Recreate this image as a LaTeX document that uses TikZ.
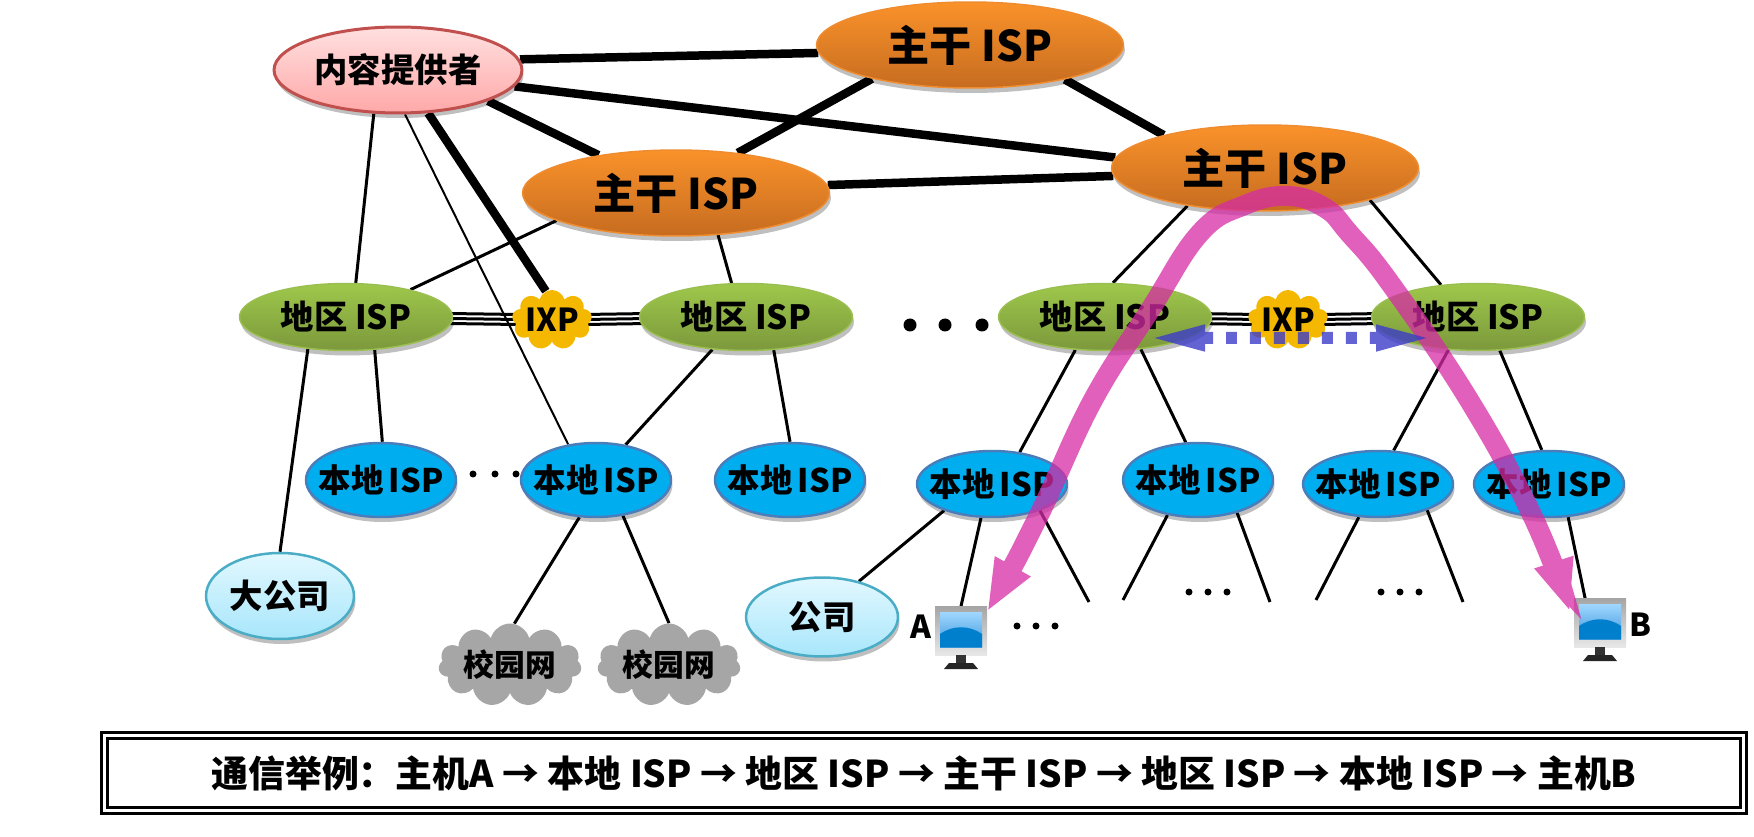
\documentclass[tikz,border=0pt]{standalone}
\usepackage{fontspec}
\setmainfont{Noto Sans CJK SC}
\usetikzlibrary{arrows.meta,backgrounds,shadows,shapes.geometric,shapes.symbols}

\definecolor{bborange}{RGB}{240,140,48}
\definecolor{routepink}{RGB}{213,43,165}
\definecolor{dotblue}{RGB}{60,60,200}

\tikzset{
	oval/.style={ellipse, inner sep=-.6cm, font=\bfseries\fontsize{19}{21}\selectfont,
		drop shadow={shadow xshift=.03cm, shadow yshift=-.1cm, opacity=.25, fill=black}},
	backbone/.style={oval, minimum width=6.14cm, minimum height=1.72cm, draw=bborange, line width=.03cm,
		top color={rgb,255:red,250;green,146;blue,42}, bottom color={rgb,255:red,198;green,108;blue,32},
		font=\bfseries\fontsize{24}{27}\selectfont},
	provider/.style={oval, minimum width=4.96cm, minimum height=1.72cm, draw={rgb,255:red,192;green,80;blue,77}, line width=.06cm,
		top color={rgb,255:red,255;green,224;blue,224}, bottom color={rgb,255:red,255;green,168;blue,168}},
	regional/.style={oval, minimum width=4.26cm, minimum height=1.34cm, draw={rgb,255:red,155;green,190;blue,80}, line width=.03cm,
		top color={rgb,255:red,158;green,200;blue,75}, bottom color={rgb,255:red,124;green,152;blue,60}},
	localisp/.style={oval, minimum width=3cm, minimum height=1.32cm, draw={rgb,255:red,74;green,126;blue,187}, line width=.05cm,
		fill={rgb,255:red,0;green,174;blue,239}, font=\bfseries\fontsize{18.5}{21}\selectfont},
	firm/.style={oval, minimum width=2.96cm, minimum height=1.72cm, draw={rgb,255:red,75;green,172;blue,198}, line width=.05cm,
		top color={rgb,255:red,226;green,248;blue,255}, bottom color={rgb,255:red,168;green,230;blue,251}},
	campus/.style={cloud, cloud puffs=11, cloud ignores aspect, inner sep=0pt, minimum width=2.86cm, minimum height=1.66cm,
		fill={rgb,255:red,166;green,166;blue,166}, font=\bfseries\fontsize{17.5}{20}\selectfont},
	exchange/.style={cloud, cloud puffs=9, cloud ignores aspect, inner sep=0pt, minimum width=1.6cm, minimum height=1.2cm,
		fill={rgb,255:red,245;green,184;blue,0}, font=\bfseries\fontsize{18}{20}\selectfont},
	trunk/.style={line width=.17cm},
	link/.style={line width=.06cm},
	peer/.style={line width=.06cm},
	route/.style={line width=.4cm, draw=routepink, fill=routepink},
	screenbox/.style={rectangle, inner sep=0pt, minimum width=1.04cm, minimum height=.98cm,
		top color={rgb,255:red,165;green,165;blue,165}, bottom color={rgb,255:red,232;green,232;blue,232}},
	hostlabel/.style={inner sep=0pt, font=\bfseries\fontsize{18}{20}\selectfont},
}

% monitor: name, position
\newcommand{\monitor}[2]{
	\node[screenbox] (#1) at (#2) {};
	\begin{scope}[shift={(#1.center)}]
		\shade[top color={rgb,255:red,160;green,215;blue,255}, bottom color={rgb,255:red,60;green,150;blue,220}] (-21,-19) rectangle (21,16);
		\fill[fill={rgb,255:red,0;green,128;blue,204}] (-21,16) -- (-21,3) .. controls (-8,-6) and (8,-6) .. (21,3) -- (21,16) -- cycle;
		\fill[black!80] (-5,24) rectangle (5,33);
		\fill[black!85] (-17,38) -- (-12,32) -- (12,32) -- (17,38) -- cycle;
	\end{scope}
}

\begin{document}
\begin{tikzpicture}[x=.02cm, y=-.02cm]
	\useasboundingbox (0,0) rectangle (1754,837);

% Nodos
	\node[provider] (cp) at (398,70) {内容提供者};
	\node[backbone] (bbT) at (970,45) {主干 ISP};
	\node[backbone] (bbL) at (676,193) {主干 ISP};
	\node[backbone] (bbR) at (1265,168) {主干 ISP};

	\node[regional] (reg1) at (346,317) {地区 ISP};
	\node[regional] (reg2) at (746,317) {地区 ISP};
	\node[regional] (reg3) at (1105,317) {地区 ISP};
	\node[regional] (reg4) at (1478,317) {地区 ISP};
	\node[exchange] (ixp1) at (552,320) {IXP};
	\node[exchange] (ixp2) at (1288,320) {IXP};

	\node[localisp, minimum height=1.48cm] (loc1) at (381,480) {本地\,ISP};
	\node[localisp, minimum height=1.48cm] (loc2) at (596,480) {本地\,ISP};
	\node[localisp, minimum height=1.48cm] (loc3) at (790,480) {本地\,ISP};
	\node[localisp] (loc4) at (992,484) {本地\,ISP};
	\node[localisp, minimum height=1.48cm] (loc5) at (1198,480) {本地\,ISP};
	\node[localisp] (loc6) at (1378,484) {本地\,ISP};
	\node[localisp] (loc7) at (1549,484) {本地\,ISP};

	\node[firm] (big) at (280,596) {大公司};
	\node[firm, minimum width=3.04cm, minimum height=1.58cm] (firm) at (822,617) {公司};
	\node[campus] (net1) at (510,665) {校园网};
	\node[campus] (net2) at (669,665) {校园网};

	\monitor{pcA}{961,631}
	\monitor{pcB}{1600,623}
	\node[hostlabel] (labA) at (921,627) {A};
	\node[hostlabel] (labB) at (1640,625) {B};

% Extremos libres
	\coordinate (e1) at (1089,602);
	\coordinate (e2) at (1123,600);
	\coordinate (e3) at (1270,602);
	\coordinate (e4) at (1316,600);
	\coordinate (e5) at (1463,602);

% Enlaces
	\begin{scope}[on background layer]
		\foreach \a/\b in {cp.5/bbT.183, cp.-8/bbR.176, cp.-19/bbL.154, cp.-55/ixp1.102,
				bbL.33/bbT.199, bbT.-20/bbR.162, bbL.3/bbR.183}
			\draw[trunk] (\a) -- (\b);

		\foreach \a/\b in {cp.-119/reg1.74, bbL.193/reg1.23, bbL.-45/reg2.113,
				reg2.224/loc2.50, reg2.-50/loc3.90, reg1.220/big.90, reg1.-49/loc1.88,
				loc2.-114/net1.84, loc2.-53/net2.90, bbR.206/reg3.77, bbR.-17/reg4.139,
				reg3.228/loc4.49, reg3.-42/loc5.108, reg4.228/loc6.65, reg4.-57/loc7.102,
				loc4.209/firm.44, loc4.252/pcA.north, loc4.-29/e1, loc5.229/e2, loc5.-40/e3,
				loc6.240/e4, loc6.-28/e5, loc7.-60/pcB.121}
			\draw[link] (\a) -- (\b);

		\draw[line width=.04cm] (cp.-81) -- (loc2.128);

		\foreach \s in {-5,0,5} {
			\draw[peer] ([yshift=\s*.02cm]reg1.center) -- ([yshift=\s*.02cm]ixp1.center);
			\draw[peer] ([yshift=\s*.02cm]ixp1.center) -- ([yshift=\s*.02cm]reg2.center);
			\draw[peer] ([yshift=\s*.02cm]reg3.center) -- ([yshift=\s*.02cm]ixp2.center);
			\draw[peer] ([yshift=\s*.02cm]ixp2.center) -- ([yshift=\s*.02cm]reg4.center);
		}
	\end{scope}

% Puntos
	\foreach \x in {910,945,982}
		\fill (\x,325) circle (.13cm);
	\foreach \x/\y in {473/474,495/474,516/474,1017/626,1036/626,1055/626,1189/592,1208/592,1227/592,1381/592,1400/592,1419/592}
		\fill (\x,\y) circle (.07cm);

% Ruta
	\coordinate (tipA) at (987,612);
	\coordinate (tipB) at (1570,612);
	\begin{scope}[transparency group, opacity=.75]
		\draw[route, fill=none, {Triangle[length=1.05cm,width=.74cm]}-{Triangle[length=1.05cm,width=.74cm]}]
			plot[smooth, tension=.7] coordinates {(tipA) (1038,517) (1093,400) (1150,310) (1200,233) (1245,205) (1288,196) (1325,208) (1349,233) (1390,283) (1469,400) (1533,517) (tipB)};
	\end{scope}

	\coordinate (dotL) at (1146,338);
	\coordinate (dotR) at (1435,338);
	\begin{scope}[transparency group, opacity=.8]
		\draw[line width=.24cm, draw=dotblue, dash pattern=on .22cm off .26cm,
			{Triangle[length=1.18cm,width=.46cm]}-{Triangle[length=1.18cm,width=.46cm]}] (dotL) -- (dotR);
	\end{scope}

% Recuadro
	\node[rectangle, draw=black, double=white, line width=.06cm, double distance=.06cm, inner sep=0pt,
		minimum width=32.8cm, minimum height=1.52cm, font=\bfseries\fontsize{21}{24}\selectfont] (note) at (924,773)
		{通信举例：主机A → 本地 ISP → 地区 ISP → 主干 ISP → 地区 ISP → 本地 ISP → 主机B};
\end{tikzpicture}
\end{document}
